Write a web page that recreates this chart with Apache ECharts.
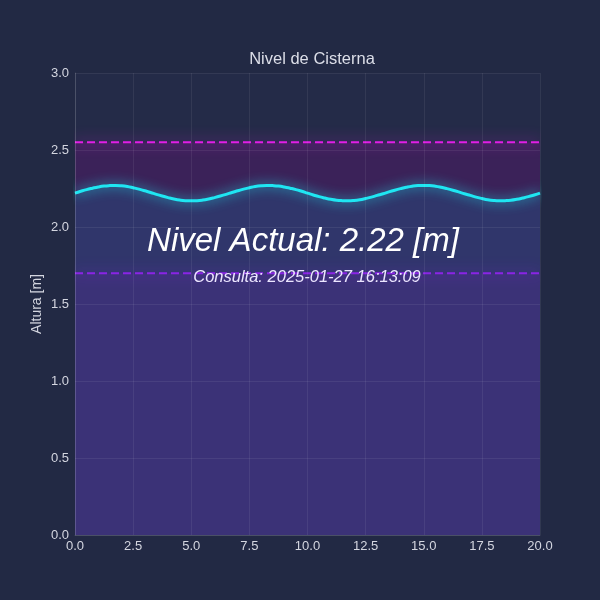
<!DOCTYPE html>
<html>
<head>
<meta charset="utf-8">
<script src="https://cdn.jsdelivr.net/npm/echarts@6/dist/echarts.min.js"></script>
<style>html,body{margin:0;padding:0;background:#222944;}#c{width:600px;height:600px;}</style>
</head>
<body>
<div id="c"></div>
<script>
const xStep = 0.25;
const levelValues = [
  2.220,2.232,2.243,2.252,2.260,2.266,2.269,2.270,2.268,2.263,2.255,2.246,2.235,2.224,2.212,2.201,2.191,2.182,2.175,2.171,
  2.170,2.171,2.175,2.182,2.191,2.201,2.212,2.224,2.235,2.246,2.255,2.263,2.268,2.270,2.269,2.266,2.260,2.252,2.243,2.232,
  2.220,2.208,2.197,2.188,2.180,2.174,2.171,2.170,2.172,2.177,2.185,2.194,2.205,2.216,2.228,2.239,2.249,2.258,2.265,2.269,
  2.270,2.269,2.265,2.258,2.249,2.239,2.228,2.216,2.205,2.194,2.185,2.177,2.172,2.170,2.171,2.174,2.180,2.188,2.197,2.208,
  2.220
];
const upperLimit = 2.55;
const lowerLimit = 1.70;
const xRange = [0, 20];
const yRange = [0, 3];
const currentLevel = 2.22;
const queryTime = '2025-01-27 16:13:09';

const wave = levelValues.map((v, i) => [i * xStep, v]);
const upperData = xRange.map(x => [x, upperLimit]);
const lowerData = xRange.map(x => [x, lowerLimit]);

const chart = echarts.init(document.getElementById('c'));
const axisLabel = {color: '#d4d6e0', fontSize: 13, fontFamily: 'Liberation Sans'};
chart.setOption({
  backgroundColor: '#222944',
  animation: false,
  title: {
    text: 'Nivel de Cisterna', left: 307, top: 46, textAlign: 'center',
    textStyle: {color: '#dcdee8', fontSize: 16.5, fontWeight: 'normal', fontFamily: 'Liberation Sans'}
  },
  grid: {left: 75, right: 60, top: 73, bottom: 65, show: true, backgroundColor: '#242b48', borderWidth: 0},
  xAxis: {
    type: 'value', min: xRange[0], max: xRange[1], interval: 2.5, z: 10,
    axisLabel: Object.assign({margin: 5, formatter: v => v.toFixed(1)}, axisLabel),
    axisLine: {show: true, lineStyle: {color: 'rgba(255,255,255,0.12)'}},
    axisTick: {show: false},
    splitLine: {show: true, lineStyle: {color: 'rgba(255,255,255,0.07)', width: 1}}
  },
  yAxis: {
    type: 'value', min: yRange[0], max: yRange[1], interval: 0.5, z: 10,
    name: 'Altura [m]', nameLocation: 'middle', nameGap: 31, nameMoveOverlap: false,
    nameTextStyle: {color: '#d4d6e0', fontSize: 14, fontFamily: 'Liberation Sans'},
    axisLabel: Object.assign({margin: 6, formatter: v => v.toFixed(1)}, axisLabel),
    axisLine: {show: true, lineStyle: {color: 'rgba(255,255,255,0.12)'}},
    axisTick: {show: false},
    splitLine: {show: true, lineStyle: {color: 'rgba(255,255,255,0.07)', width: 1}}
  },
  series: [
    {
      type: 'line', data: upperData, z: 1, symbol: 'none',
      lineStyle: {color: '#e21ee6', width: 2, type: [8, 4], shadowBlur: 14, shadowColor: 'rgba(226,30,230,1)'},
      areaStyle: {color: '#3b2259', opacity: 1}
    },
    {
      type: 'line', data: wave, z: 2, symbol: 'none', smooth: true,
      lineStyle: {width: 0},
      areaStyle: {color: '#30366b', opacity: 1}
    },
    {
      type: 'line', data: lowerData, z: 3, symbol: 'none',
      lineStyle: {color: '#8a24e6', width: 2, type: [8, 4], shadowBlur: 14, shadowColor: 'rgba(138,36,230,1)'},
      areaStyle: {color: '#3b3277', opacity: 1}
    },
    {
      type: 'line', data: wave, z: 4, symbol: 'none', smooth: true,
      lineStyle: {color: '#1fe6f2', width: 3, shadowBlur: 12, shadowColor: 'rgba(31,230,242,0.9)'}
    }
  ],
  graphic: [
    {type: 'text', z: 20, x: 303, y: 242, style: {text: 'Nivel Actual: ' + currentLevel.toFixed(2) + ' [m]', fill: '#ffffff', fontSize: 33, fontStyle: 'italic', fontFamily: 'Liberation Sans', textAlign: 'center', textVerticalAlign: 'middle'}},
    {type: 'text', z: 20, x: 307, y: 277, style: {text: 'Consulta: ' + queryTime, fill: '#ece6ff', fontSize: 16.5, fontStyle: 'italic', fontFamily: 'Liberation Sans', textAlign: 'center', textVerticalAlign: 'middle'}}
  ]
});
</script>
</body>
</html>
